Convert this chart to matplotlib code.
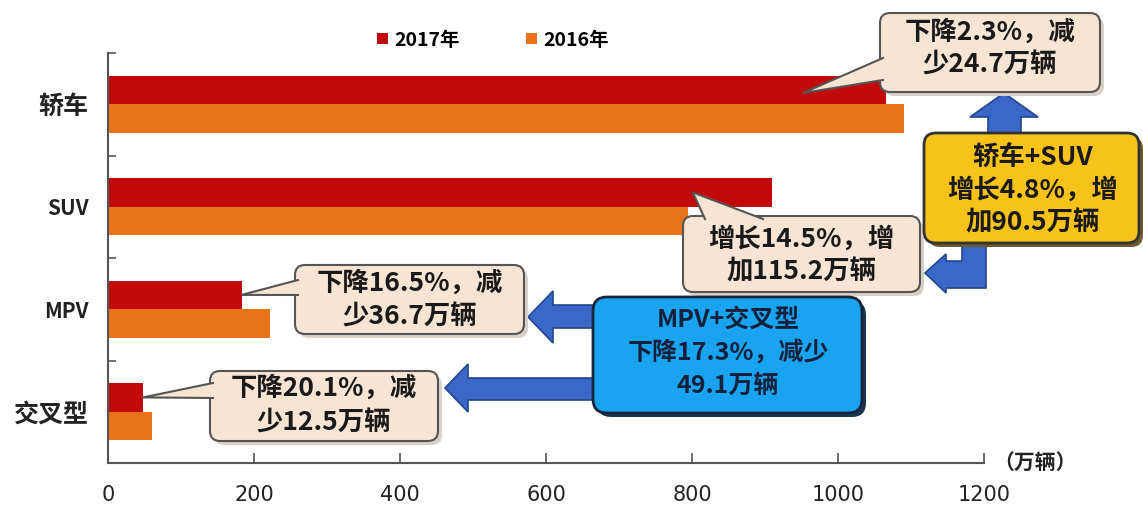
import numpy as np
import matplotlib.pyplot as plt
from matplotlib.patches import FancyBboxPatch, Polygon
from matplotlib.lines import Line2D
from matplotlib.transforms import IdentityTransform

plt.rcParams['font.family'] = ['Noto Sans CJK SC', 'DejaVu Sans']

# data (万辆), bottom to top
categories = ['交叉型', 'MPV', 'SUV', '轿车']
sales_2017 = [48, 183, 910, 1066]
sales_2016 = [60, 222, 795, 1090]
xticks = [0, 200, 400, 600, 800, 1000, 1200]
years = ['2017年', '2016年']

W, H = 1143, 507
PX = IdentityTransform()

fig = plt.figure(figsize=(W / 100, H / 100), dpi=100)
ax = fig.add_axes([108 / W, 1 - 463 / H, 876 / W, 410 / H])

y = np.arange(len(categories))
bh = 0.28
b17 = ax.barh(y + bh / 2, sales_2017, height=bh, color='#C20A0A', label=years[0], zorder=2)
b16 = ax.barh(y - bh / 2, sales_2016, height=bh, color='#E8731A', label=years[1], zorder=2)

ax.set_xlim(0, 1200)
ax.set_ylim(-0.5, 3.5)
for s in ['top', 'right']:
    ax.spines[s].set_visible(False)
for s in ['left', 'bottom']:
    ax.spines[s].set_color('#555555')
    ax.spines[s].set_linewidth(1.5)

ax.set_yticks(y, categories)
ax.set_yticks(np.arange(-0.5, 4, 1), minor=True)
ax.tick_params(axis='y', which='major', length=0, pad=14)
ax.tick_params(axis='y', which='minor', direction='in', length=6, color='#555555', width=1.2)
for lab in ax.get_yticklabels():
    lab.set_fontweight('bold')
    lab.set_color('#222222')
    lab.set_fontsize(15 if lab.get_text() in ('SUV', 'MPV') else 18)

ax.set_xticks(xticks)
ax.tick_params(axis='x', direction='in', length=7, pad=16, color='#555555', width=1.2)
for lab in ax.get_xticklabels():
    lab.set_family(['Liberation Sans Narrow', 'DejaVu Sans'])
    lab.set_fontsize(15)
    lab.set_color('#222222')

fig.legend(handles=[b17, b16], loc='center', bbox_to_anchor=(493 / W, 1 - 40 / H),
           ncol=2, frameon=False, handlelength=0.55, handleheight=0.55,
           handletextpad=0.35, columnspacing=3.4,
           prop={'size': 14, 'weight': 'bold'})

fig.text(1035, H - 463, '（万辆）', transform=PX, ha='center', va='center',
         fontsize=15, fontweight='bold', color='#222222')


def P(x, yy):
    # pixel position measured from the top-left corner
    return (x, H - yy)


def rbox(x0, y0, x1, y1, fc, ec, lw=1.5, shadow=None, z=5, r=10):
    if shadow:
        sh = FancyBboxPatch(P(x0 + 4, y1 + 4), x1 - x0, y1 - y0,
                            boxstyle='round,pad=0,rounding_size=%d' % r,
                            fc=shadow, ec='none', transform=PX, zorder=z - 0.5)
        fig.add_artist(sh)
    b = FancyBboxPatch(P(x0, y1), x1 - x0, y1 - y0,
                       boxstyle='round,pad=0,rounding_size=%d' % r,
                       fc=fc, ec=ec, lw=lw, transform=PX, zorder=z)
    fig.add_artist(b)


def lines(cx, cys, texts, color='#1a1a1a', size=19, z=9):
    for cy, t in zip(cys, texts):
        fig.text(cx, H - cy, t, transform=PX, ha='center', va='center',
                 fontsize=size, fontweight='bold', color=color, zorder=z)


def bubble(x0, y0, x1, y1, texts, base, tip, cys):
    fc, ec = '#F7E4D3', '#555555'
    rbox(x0, y0, x1, y1, fc, ec, shadow='#d9d0c8', z=6)
    tx, ty = ax.transData.transform(tip)
    b1, b2 = P(*base[0]), P(*base[1])
    fig.add_artist(Polygon([b1, (tx, ty), b2], closed=True, fc=fc, ec='none',
                           transform=PX, zorder=7))
    fig.add_artist(Line2D([b1[0], tx, b2[0]], [b1[1], ty, b2[1]], color=ec, lw=1.5,
                          transform=PX, zorder=8))
    lines((x0 + x1) / 2, cys, texts)


def block_arrow(pts):
    fig.add_artist(Polygon([P(*p) for p in pts], closed=True, fc='#3A68C8',
                           ec='#23468F', lw=1.2, transform=PX, zorder=4))


# blue arrows
block_arrow([(988, 140), (988, 117), (970, 117), (1004, 93), (1038, 117), (1021, 117), (1021, 140)])
block_arrow([(962, 240), (986, 240), (986, 288), (946, 288), (946, 293), (925, 273),
             (946, 254), (946, 261), (962, 261)])
block_arrow([(600, 305), (553, 305), (553, 291), (528, 317), (553, 343), (553, 328), (600, 328)])
block_arrow([(600, 378), (468, 378), (468, 364), (445, 388), (468, 412), (468, 400), (600, 400)])

# callouts
bubble(880, 13, 1100, 92, ['下降2.3%，减', '少24.7万辆'],
       [(883, 58), (883, 80)], (952, 3.11), [32, 65])
bubble(683, 216, 920, 292, ['增长14.5%，增', '加115.2万辆'],
       [(705, 219), (763, 219)], (801, 2 + bh / 2), [239, 272])
bubble(295, 265, 524, 334, ['下降16.5%，减', '少36.7万辆'],
       [(298, 280), (298, 295)], (sales_2017[1], 1 + bh / 2), [283, 317])
bubble(210, 371, 438, 441, ['下降20.1%，减', '少12.5万辆'],
       [(213, 383), (213, 398)], (sales_2017[0], 0 + bh / 2), [388, 423])

rbox(924, 133, 1139, 243, '#F7C31A', '#333333', lw=2, shadow='#6b5a2a', z=6, r=12)
lines(1033, [158, 190, 223], ['轿车+SUV', '增长4.8%，增', '加90.5万辆'])

rbox(593, 297, 862, 413, '#1AA3EE', '#15253d', lw=2, shadow='#1b3550', z=6, r=14)
lines(728, [320, 352, 386], ['MPV+交叉型', '下降17.3%，减少', '49.1万辆'], color='#14213d', size=18)

fig.savefig('out.png', dpi=100)
